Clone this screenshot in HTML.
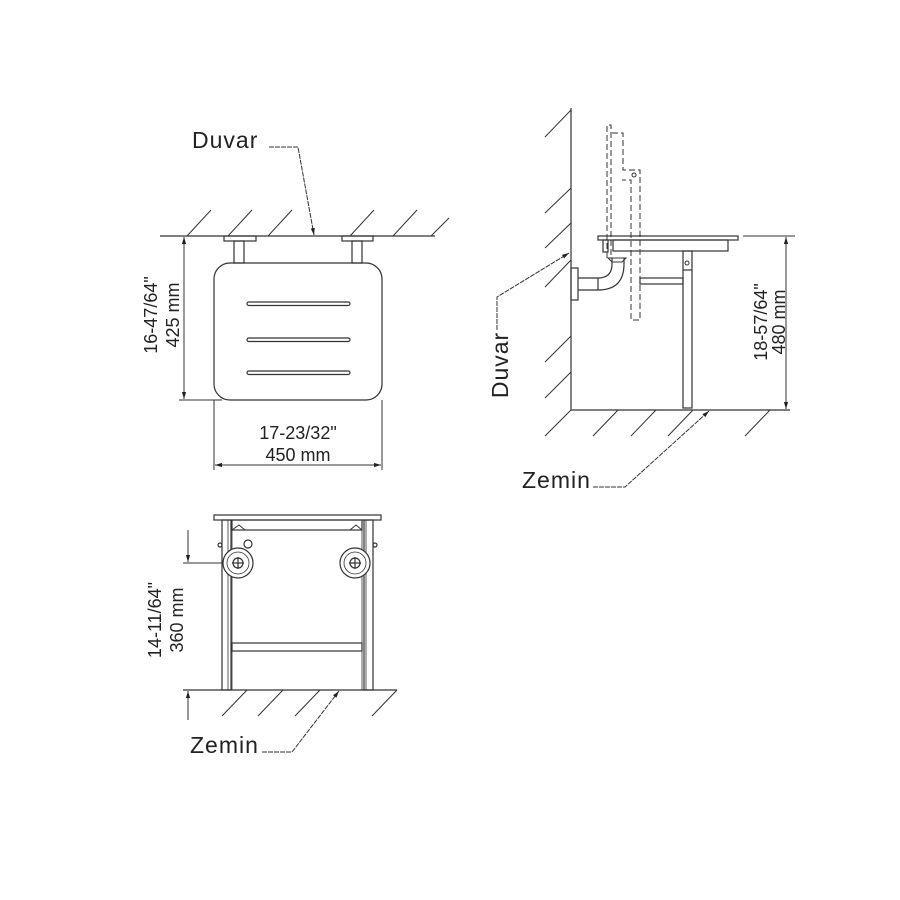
<!DOCTYPE html>
<html><head><meta charset="utf-8"><style>
html,body{margin:0;padding:0;background:#fff}
svg{display:block}
text{font-family:"Liberation Sans",sans-serif;fill:#222}
</style></head><body>
<svg width="900" height="900" viewBox="0 0 900 900" xmlns="http://www.w3.org/2000/svg">
<defs>
<marker id="a" viewBox="0 0 10 10" refX="10" refY="5" markerWidth="7" markerHeight="7" orient="auto-start-reverse"><path d="M0,2 L10,5 L0,8 z" fill="#222"/></marker>
</defs>
<g stroke="#333" stroke-width="1.2" fill="none">
<line x1="160" y1="236" x2="435" y2="236"/>
<g stroke-width="1">
<line x1="187" y1="236" x2="211" y2="210"/><line x1="228" y1="236" x2="252" y2="210"/>
<line x1="268" y1="236" x2="292" y2="210"/><line x1="350" y1="236" x2="374" y2="210"/>
<line x1="393" y1="236" x2="417" y2="210"/><line x1="431" y1="236" x2="449" y2="218"/>
</g>
<rect x="224" y="236" width="32" height="5"/><rect x="342" y="236" width="31" height="5"/>
<rect x="234" y="241" width="10" height="22"/><rect x="352" y="241" width="10" height="22"/>
<rect x="214" y="263" width="168" height="137" rx="16"/>
<rect x="247" y="302" width="103" height="3.5" rx="1.7"/>
<rect x="247" y="338" width="103" height="3.5" rx="1.7"/>
<rect x="247" y="371" width="103" height="3.5" rx="1.7"/>
<line x1="184" y1="237" x2="184" y2="399" marker-start="url(#a)" marker-end="url(#a)" stroke-width="1"/>
<line x1="179" y1="400" x2="222" y2="400" stroke-width="1"/>
<line x1="214" y1="400" x2="214" y2="470" stroke-width="1"/><line x1="382" y1="400" x2="382" y2="470" stroke-width="1"/>
<line x1="215" y1="465" x2="381" y2="465" marker-start="url(#a)" marker-end="url(#a)" stroke-width="1"/>
<polyline points="269,147 298,147 314,235" stroke-width="1" stroke-dasharray="5,1" marker-end="url(#a)"/>

<line x1="571" y1="108" x2="571" y2="410"/>
<line x1="571" y1="410" x2="790" y2="410"/>
<g stroke-width="1">
<line x1="545" y1="137" x2="571" y2="110"/><line x1="545" y1="213" x2="571" y2="188"/>
<line x1="545" y1="248" x2="571" y2="223"/><line x1="545" y1="287" x2="571" y2="260"/>
<line x1="545" y1="362" x2="571" y2="336"/><line x1="545" y1="398" x2="571" y2="372"/>
<line x1="571" y1="410" x2="545" y2="436"/><line x1="618" y1="410" x2="593" y2="436"/>
<line x1="656" y1="410" x2="631" y2="436"/><line x1="693" y1="410" x2="668" y2="436"/>
<line x1="770" y1="410" x2="745" y2="436"/>
</g>
<g stroke-dasharray="6,3" stroke-width="1">
<path d="M607,258 V125 H611 V258"/>
<path d="M612,133 H623 V170 H640 V320 H631 V180 H622"/>
</g>
<circle cx="634" cy="175" r="2" stroke-width="1"/>
<rect x="598" y="236" width="140" height="4"/>
<rect x="613" y="240" width="115" height="11"/>
<rect x="603" y="240" width="5" height="12"/>
<rect x="683" y="251" width="9" height="157"/>
<line x1="683" y1="270" x2="692" y2="270"/>
<circle cx="687" cy="263" r="2" stroke-width="1"/>
<rect x="640" y="278" width="43" height="6"/>
<rect x="571" y="268" width="7" height="32"/>
<path d="M578,278 H598 Q612,278 612,264 V258 M578,290 H598 Q624,290 624,264 V258"/>
<line x1="598" y1="278" x2="598" y2="290"/>
<path d="M608,258 H626 L622,262 H612 z" stroke-width="1"/>
<line x1="743" y1="236" x2="795" y2="236" stroke-width="1"/>
<line x1="786" y1="237" x2="786" y2="409" marker-start="url(#a)" marker-end="url(#a)" stroke-width="1"/>
<polyline points="497,330 497,297 569,253" stroke-width="1" stroke-dasharray="5,1" marker-end="url(#a)"/>
<polyline points="593,487 625,487 709,411" stroke-width="1" stroke-dasharray="5,1" marker-end="url(#a)"/>

<rect x="214" y="515" width="167" height="5"/>
<rect x="222" y="520" width="9" height="170"/><rect x="228" y="520" width="4" height="170" stroke-width="0.8"/>
<rect x="364" y="520" width="9" height="170"/><rect x="362" y="520" width="4" height="170" stroke-width="0.8"/>
<rect x="232" y="520" width="130" height="10"/>
<path d="M232,530 L239,525 L245,530 M350,530 L356,525 L362,530" stroke-width="1"/>
<rect x="232" y="643" width="130" height="8"/>
<circle cx="238" cy="563" r="15" fill="#fff"/><circle cx="238" cy="563" r="11" stroke-width="0.8"/>
<circle cx="238" cy="563" r="5"/><line x1="232" y1="563" x2="244" y2="563"/><line x1="238" y1="557" x2="238" y2="569"/>
<circle cx="355" cy="563" r="15" fill="#fff"/><circle cx="355" cy="563" r="11" stroke-width="0.8"/>
<circle cx="355" cy="563" r="5"/><line x1="349" y1="563" x2="361" y2="563"/><line x1="355" y1="557" x2="355" y2="569"/>
<circle cx="248" cy="544" r="4"/><circle cx="220" cy="545" r="2"/><circle cx="375" cy="545" r="2"/>
<line x1="183" y1="690" x2="397" y2="690"/>
<g stroke-width="1">
<line x1="247" y1="690" x2="222" y2="716"/><line x1="283" y1="690" x2="258" y2="716"/>
<line x1="320" y1="690" x2="295" y2="716"/><line x1="397" y1="690" x2="372" y2="716"/>
</g>
<line x1="183" y1="563" x2="222" y2="563" stroke-width="1"/>
<line x1="188" y1="530" x2="188" y2="562" stroke-width="1" marker-end="url(#a)"/>
<line x1="188" y1="720" x2="188" y2="691" stroke-width="1" marker-end="url(#a)"/>
<polyline points="262,752 292,752 339,691" stroke-width="1" stroke-dasharray="5,1" marker-end="url(#a)"/>
</g>
<g font-size="23" letter-spacing="1">
<text x="192" y="148">Duvar</text>
<text x="522" y="488">Zemin</text>
<text x="190" y="753">Zemin</text>
<text transform="translate(508,365) rotate(-90)" text-anchor="middle">Duvar</text>
</g>
<g font-size="18" text-anchor="middle">
<text x="298" y="439">17-23/32"</text>
<text x="298" y="461">450 mm</text>
<text transform="translate(157,315) rotate(-90)">16-47/64"</text>
<text transform="translate(179,315) rotate(-90)">425 mm</text>
<text transform="translate(767,322) rotate(-90)">18-57/64"</text>
<text transform="translate(785,322) rotate(-90)">480 mm</text>
<text transform="translate(161,620) rotate(-90)">14-11/64"</text>
<text transform="translate(183,620) rotate(-90)">360 mm</text>
</g>
</svg>
</body></html>
